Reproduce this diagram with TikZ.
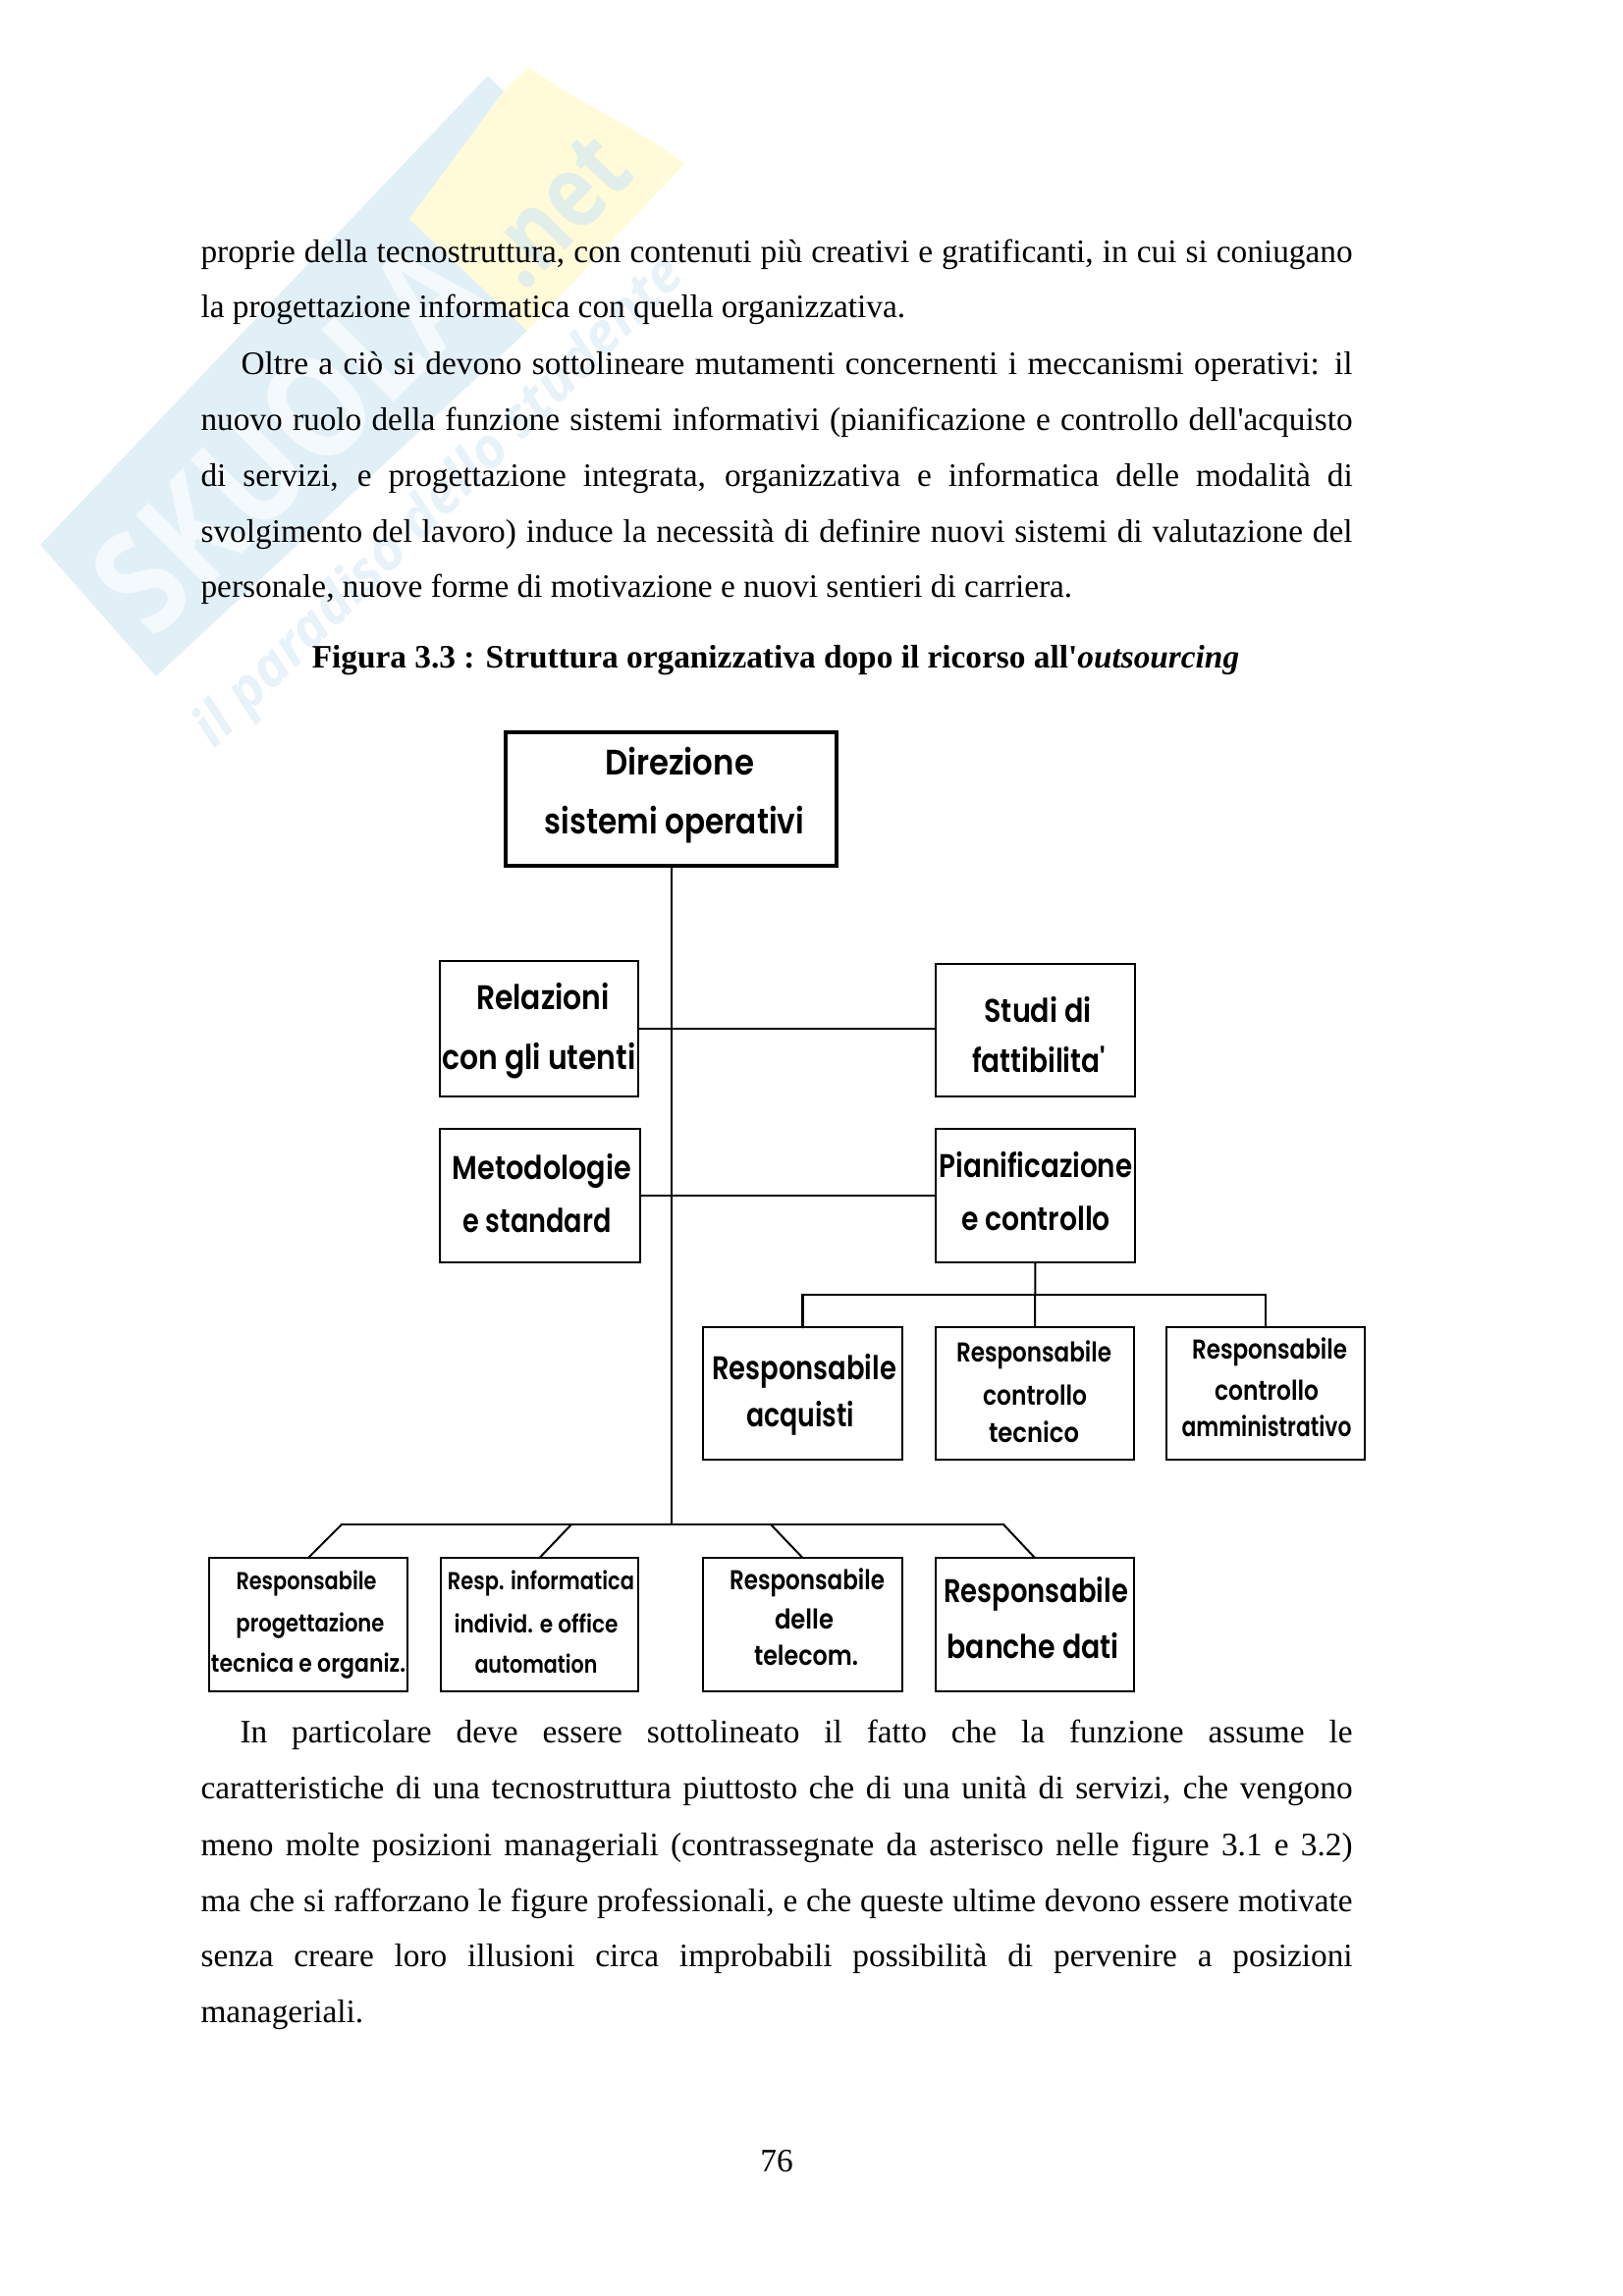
\documentclass[tikz,border=0pt]{standalone}
\usepackage{fontspec}
\usepackage{graphicx}
\setmainfont{Liberation Serif}[Ligatures=TeXOff]
\newfontfamily\dgfont[UprightFont=* SemiBold]{Poppins}
\newfontfamily\wmfont{Open Sans}
\definecolor{wmblue}{HTML}{E1EFF7}
\definecolor{wmwhite}{HTML}{F3F9FC}
\definecolor{wmtagc}{HTML}{E7F2F9}
\definecolor{wmyellow}{HTML}{FFFBD8}
\definecolor{wmblueb}{HTML}{E1EEEA}
\tikzset{
  boxn/.style={draw=black,line width=0.95pt},
  boxk/.style={draw=black,line width=1.1pt},
  linkn/.style={line width=0.72pt,line cap=round,line join=miter},
  busn/.style={line width=1.05pt,line cap=round},
  dgtext/.style={anchor=base,inner sep=0,text=black},
  bodyt/.style={anchor=base west,inner sep=0,text=black},
  every node/.style={font=\fontsize{12pt}{16pt}\selectfont},
}
% label inside the chart: name, x, y, width in px, size in pt, text
\newcommand{\dgl}[6]{\node[dgtext] (#1) at (#2,#3) {\fontsize{#5}{#5}\dgfont\resizebox{\dimexpr0.36pt*#4\relax}{\height}{#6}};}
% justified line
\newcommand{\jl}[5]{\node[bodyt] (#1) at (#2,#3) {\makebox[\dimexpr0.36pt*#4\relax][s]{#5}};}
\newcommand{\pl}[4]{\node[bodyt] (#1) at (#2,#3) {#4};}
% box from left, top, right, bottom
\newcommand{\bx}[6][boxn]{\path[#1] (#3,#4) rectangle (#5,#6);
  \coordinate (#2 n) at ({(#3+#5)/2},#4); \coordinate (#2 s) at ({(#3+#5)/2},#6);
  \coordinate (#2 w) at (#3,{(#4+#6)/2}); \coordinate (#2 e) at (#5,{(#4+#6)/2});}
\begin{document}
\begin{tikzpicture}[x=0.36pt,y=-0.36pt]
\useasboundingbox (0,0) rectangle (1653,2339);
% watermark
\fill[wmblue] (41,555) -- (497,77) -- (513,93) -- (417,223) -- (537,337) -- (159,689) -- cycle;
\fill[wmyellow] (538,68) .. controls (600,112) and (650,130) .. (697,167) -- (537,337) -- (417,223) -- (513,93) -- cycle;
\begin{scope}
\clip (41,555) -- (497,77) -- (513,93) -- (417,223) -- (537,337) -- (159,689) -- cycle;
\node[rotate=45,inner sep=0,text=wmwhite] (wmname) at (292,445) {\wmfont\bfseries\resizebox{175pt}{38pt}{SKUOLA}};
\end{scope}
\node[rotate=46,inner sep=0,text=wmblueb] (wmnet) at (567,215) {\wmfont\bfseries\resizebox{60pt}{25pt}{.net}};
\node[rotate=45,inner sep=0,text=wmtagc] (wmtag) at (449,512) {\wmfont\itshape\bfseries\resizebox{245pt}{!}{il paradiso dello studente}};
% body text
\jl{t1}{204}{267}{1173}{proprie della tecnostruttura, con contenuti più creativi e gratificanti, in cui si coniugano}
\pl{t2}{204}{323.5}{la progettazione informatica con quella organizzativa.}
\jl{t3}{245}{381.5}{1132}{Oltre a ciò si devono sottolineare mutamenti concernenti i meccanismi operativi: il}
\jl{t4}{204}{438.5}{1173}{nuovo ruolo della funzione sistemi informativi (pianificazione e controllo dell'acquisto}
\jl{t5}{204}{495.5}{1173}{di servizi, e progettazione integrata, organizzativa e informatica delle modalità di}
\jl{t6}{204}{552}{1173}{svolgimento del lavoro) induce la necessità di definire nuovi sistemi di valutazione del}
\pl{t7}{204}{608.5}{personale, nuove forme di motivazione e nuovi sentieri di carriera.}
\node[dgtext] (cap) at (790,680) {\bfseries Figura 3.3 : Struttura organizzativa dopo il ricorso all'\textit{outsourcing}};
\jl{u1}{244}{1775}{1133}{In particolare deve essere sottolineato il fatto che la funzione assume le}
\jl{u2}{204}{1832}{1173}{caratteristiche di una tecnostruttura piuttosto che di una unità di servizi, che vengono}
\jl{u3}{204}{1890}{1173}{meno molte posizioni manageriali (contrassegnate da asterisco nelle figure 3.1 e 3.2)}
\jl{u4}{204}{1947}{1173}{ma che si rafforzano le figure professionali, e che queste ultime devono essere motivate}
\jl{u5}{204}{2003}{1173}{senza creare loro illusioni circa improbabili possibilità di pervenire a posizioni}
\pl{u6}{204}{2060}{manageriali.}
\node[dgtext] (pg) at (791,2212) {76};
% boxes
\bx[boxk]{dir}{515}{746}{852}{882}
\bx{rel}{448}{979}{650}{1117}
\bx{stu}{953}{982}{1156}{1117}
\bx{met}{448}{1150}{652}{1286}
\bx{pia}{953}{1150}{1156}{1286}
\bx{acq}{716}{1352}{919}{1487}
\bx{tec}{953}{1352}{1155}{1487}
\bx{amm}{1188}{1352}{1390}{1487}
\bx{pro}{213}{1587}{415}{1723}
\bx{inf}{449}{1587}{650}{1723}
\bx{tel}{716}{1587}{919}{1723}
\bx{ban}{953}{1587}{1155}{1723}
% connectors
\coordinate (trunkend) at (683.5,1553);
\coordinate (busl) at (348,1553);
\coordinate (busa) at (582,1553);
\coordinate (busb) at (785,1553);
\coordinate (busr) at (1022,1553);
\coordinate (pbus) at (1054,1319);
\draw[linkn] (dir s) -- (trunkend);
\draw[linkn] (rel e) -- (rel e -| stu w);
\draw[linkn] (met e) -- (pia w);
\draw[linkn] (pia s) -- (tec n);
\draw[busn] (acq n) |- (pbus) -| (amm n);
\draw[busn] (busl) -- (busr);
\draw[linkn] (pro n) -- (busl);
\draw[linkn] (inf n) -- (busa);
\draw[linkn] (tel n) -- (busb);
\draw[linkn] (ban n) -- (busr);
% labels
\dgl{l1}{692}{789}{152}{13}{Direzione}
\dgl{l2}{687}{849}{264}{13}{sistemi operativi}
\dgl{l3}{553}{1028}{136}{12.5}{Relazioni}
\dgl{l4}{549}{1089}{197}{12.5}{con gli utenti}
\dgl{l5}{1057}{1041}{109}{12}{Studi di}
\dgl{l6}{1058}{1092}{136}{12}{fattibilita'}
\dgl{l7}{552}{1201}{182}{12}{Metodologie}
\dgl{l8}{547}{1255}{151}{12}{e standard}
\dgl{l9}{1055}{1199}{197}{12}{Pianificazione}
\dgl{l10}{1055}{1253}{152}{12}{e controllo}
\dgl{l11}{819}{1405}{188}{12}{Responsabile}
\dgl{l12}{815}{1453}{110}{12}{acquisti}
\dgl{l13}{1053}{1387}{158}{10}{Responsabile}
\dgl{l14}{1054}{1431}{106}{10}{controllo}
\dgl{l15}{1053}{1469}{92}{10}{tecnico}
\dgl{l16}{1293}{1384}{158}{10}{Responsabile}
\dgl{l17}{1290}{1426}{106}{10}{controllo}
\dgl{l18}{1290}{1463}{173}{10}{amministrativo}
\dgl{l19}{312}{1619}{143}{9}{Responsabile}
\dgl{l20}{316}{1662}{151}{9}{progettazione}
\dgl{l21}{314}{1703}{198}{9}{tecnica e organiz.}
\dgl{l22}{551}{1619}{190}{9}{Resp. informatica}
\dgl{l23}{546}{1663}{167}{9}{individ. e office}
\dgl{l24}{546}{1704}{125}{9}{automation}
\dgl{l25}{822}{1619}{158}{10}{Responsabile}
\dgl{l26}{819}{1659}{60}{10}{delle}
\dgl{l27}{821}{1696}{106}{10}{telecom.}
\dgl{l28}{1055}{1632}{188}{12}{Responsabile}
\dgl{l29}{1052}{1689}{175}{12}{banche dati}
\end{tikzpicture}
\end{document}
